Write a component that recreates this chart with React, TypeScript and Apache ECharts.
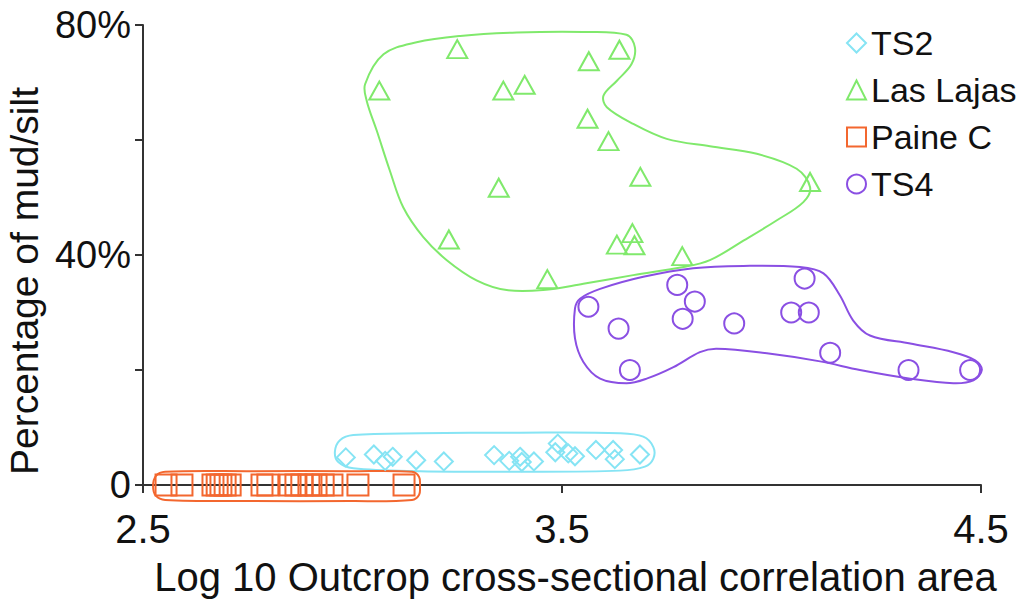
import React, { useEffect, useRef } from "react";
import * as echarts from "echarts";

// Series names, in legend order
const seriesNames = ["TS2", "Las Lajas", "Paine C", "TS4"];

// [log10 area, % mud/silt]
const ts2Points: number[][] = [
  [2.984, 4.8], [3.051, 5.3], [3.078, 4.2], [3.096, 4.9], [3.152, 4.3],
  [3.218, 4.1], [3.338, 5.2], [3.374, 4.2], [3.4, 4.9], [3.404, 4.0],
  [3.433, 4.1], [3.484, 5.7], [3.49, 7.2], [3.515, 5.5], [3.531, 5.0],
  [3.581, 6.1], [3.622, 6.1], [3.626, 4.5], [3.686, 5.3],
];

const lasLajasPoints: number[][] = [
  [3.25, 75.8], [3.064, 68.6], [3.36, 68.6], [3.411, 69.6], [3.564, 73.7],
  [3.637, 75.7], [3.561, 63.7], [3.611, 59.8], [3.687, 53.6], [3.349, 51.7],
  [4.092, 52.7], [3.23, 42.7], [3.631, 41.8], [3.668, 43.8], [3.673, 41.7],
  [3.787, 39.8], [3.465, 35.8],
];

const paineCPoints: number[][] = [
  [2.555, 0], [2.593, 0], [2.667, 0], [2.677, 0], [2.686, 0], [2.696, 0],
  [2.708, 0], [2.784, 0], [2.798, 0], [2.851, 0], [2.865, 0], [2.879, 0],
  [2.896, 0], [2.913, 0], [2.93, 0], [2.951, 0], [3.013, 0], [3.123, 0],
];

const ts4Points: number[][] = [
  [3.563, 31.0], [3.635, 27.2], [3.662, 20.0], [3.775, 34.8], [3.817, 31.9],
  [3.788, 28.9], [3.911, 28.1], [4.047, 30.0], [4.089, 30.0], [4.079, 35.9],
  [4.14, 23.0], [4.327, 20.0], [4.474, 20.0],
];

// Hand-drawn envelopes around each group, in data units
const ts2Envelope: number[][] = [
  [2.958, 5.8], [2.97, 7.8], [3.002, 8.7], [3.161, 9.0], [3.4, 9.1],
  [3.638, 9.0], [3.694, 8.4], [3.718, 6.6], [3.718, 4.6], [3.698, 3.2],
  [3.638, 2.5], [3.4, 2.3], [3.161, 2.4], [3.002, 2.9], [2.966, 4.0],
];

const lasLajasEnvelope: number[][] = [
  [3.03, 69.7], [3.074, 74.9], [3.153, 77.0], [3.257, 78.1], [3.392, 78.7],
  [3.551, 78.8], [3.654, 78.3], [3.674, 76.1], [3.666, 73.2], [3.631, 70.3],
  [3.599, 67.7], [3.607, 65.7], [3.67, 62.8], [3.75, 60.2], [3.853, 58.9],
  [3.965, 57.6], [4.06, 55.0], [4.092, 51.8], [4.076, 49.2], [4.012, 46.0],
  [3.933, 42.5], [3.853, 39.1], [3.79, 37.9], [3.67, 36.5], [3.551, 35.0],
  [3.455, 33.9], [3.368, 33.9], [3.296, 35.6], [3.225, 39.1], [3.169, 43.1],
  [3.121, 48.3], [3.089, 54.7], [3.058, 61.6], [3.034, 66.8],
];

const paineCEnvelope: number[][] = [
  [2.524, -0.2], [2.531, 1.6], [2.553, 2.3], [2.755, 2.4], [2.994, 2.4],
  [3.142, 2.3], [3.159, 1.4], [3.161, -0.2], [3.159, -1.7], [3.142, -2.6],
  [2.994, -2.8], [2.755, -2.8], [2.553, -2.6], [2.531, -1.9],
];

const ts4Envelope: number[][] = [
  [3.531, 30.7], [3.543, 32.4], [3.591, 34.1], [3.694, 36.2], [3.813, 37.7],
  [3.933, 38.1], [4.068, 37.9], [4.124, 36.8], [4.163, 33.0], [4.195, 28.6],
  [4.235, 26.0], [4.331, 24.6], [4.434, 23.1], [4.486, 21.7], [4.502, 20.0],
  [4.482, 18.2], [4.434, 17.7], [4.331, 18.5], [4.211, 20.0], [4.116, 21.5],
  [3.989, 22.9], [3.869, 23.7], [3.829, 23.1], [3.766, 20.5], [3.702, 18.5],
  [3.654, 17.7], [3.591, 18.5], [3.551, 21.4], [3.531, 25.5],
];

// Axis ticks and labels
const xTickValues = [2.5, 3.5, 4.5];
const yTickValues = [0, 20, 40, 60, 80];
const yLabelValues = [0, 40, 80];

const COLORS = {
  ts2: "#86e4f4",
  lasLajas: "#80e96c",
  paineC: "#f3672f",
  ts4: "#8a4fe3",
};

const FONT = "'Liberation Sans', Arial, Helvetica, sans-serif";
const AXIS_COLOR = "#333";
const TEXT_COLOR = "#111";

function envelopeSeries(name: string, points: number[][], color: string) {
  return {
    type: "custom",
    name,
    silent: true,
    z: 1,
    data: [points[0]],
    renderItem: (_params: any, api: any) => ({
      type: "polygon",
      shape: {
        points: points.map((p) => api.coord(p)),
        smooth: 0.35,
      },
      style: { fill: "none", stroke: color, lineWidth: 2 },
    }),
  };
}

function scatterSeries(
  name: string,
  points: number[][],
  symbol: string,
  size: number | number[],
  color: string
) {
  return {
    type: "scatter",
    name,
    symbol,
    symbolSize: size,
    z: 3,
    data: points,
    itemStyle: {
      color: "rgba(255,255,255,0)",
      borderColor: color,
      borderWidth: 2,
      opacity: 1,
    },
    emphasis: { disabled: true },
  };
}

export default function App() {
  const ref = useRef<HTMLDivElement>(null);

  useEffect(() => {
    if (!ref.current) return;
    const chart = echarts.init(ref.current, null, { renderer: "svg" });

    chart.setOption({
      animation: false,
      backgroundColor: "#fff",
      textStyle: { fontFamily: FONT },
      grid: {
        left: 143,
        right: 48,
        top: 25,
        bottom: 129,
        containLabel: false,
        outerBoundsMode: "none",
      },
      legend: {
        orient: "vertical",
        left: 846,
        top: 26,
        padding: 0,
        itemWidth: 19,
        itemHeight: 19,
        itemGap: 13,
        textStyle: {
          fontFamily: FONT,
          fontSize: 34,
          color: TEXT_COLOR,
          lineHeight: 34,
        },
        data: [
          { name: seriesNames[0], icon: "diamond" },
          { name: seriesNames[1], icon: "triangle" },
          { name: seriesNames[2], icon: "rect" },
          { name: seriesNames[3], icon: "circle" },
        ],
      },
      xAxis: {
        type: "value",
        min: 2.5,
        max: 4.5,
        name: "Log 10 Outcrop cross-sectional correlation area",
        nameLocation: "middle",
        nameGap: 72,
        nameTextStyle: {
          fontFamily: FONT,
          fontSize: 40,
          color: TEXT_COLOR,
          padding: [0, 0, 0, 27],
        },
        axisLine: { show: true, onZero: false, lineStyle: { color: AXIS_COLOR, width: 2 } },
        axisTick: {
          show: true,
          length: 8,
          customValues: xTickValues,
          lineStyle: { color: AXIS_COLOR, width: 2 },
        },
        axisLabel: {
          customValues: xTickValues,
          fontFamily: FONT,
          fontSize: 40,
          color: TEXT_COLOR,
          margin: 24,
          formatter: (v: number) => v.toFixed(1),
        },
        splitLine: { show: false },
      },
      yAxis: {
        type: "value",
        min: 0,
        max: 80,
        interval: 20,
        name: "Percentage of mud/silt",
        nameLocation: "middle",
        nameRotate: 90,
        nameGap: 98,
        nameTextStyle: {
          fontFamily: FONT,
          fontSize: 39,
          color: TEXT_COLOR,
          padding: [0, 52, 0, 0],
        },
        axisLine: { show: true, lineStyle: { color: AXIS_COLOR, width: 2 } },
        axisTick: {
          show: true,
          length: 8,
          customValues: yTickValues,
          lineStyle: { color: AXIS_COLOR, width: 2 },
        },
        axisLabel: {
          customValues: yLabelValues,
          fontFamily: FONT,
          fontSize: 38,
          color: TEXT_COLOR,
          margin: 12,
          formatter: (v: number) => (v === 0 ? "0" : `${v}%`),
        },
        splitLine: { show: false },
      },
      series: [
        envelopeSeries("TS2 envelope", ts2Envelope, COLORS.ts2),
        envelopeSeries("Las Lajas envelope", lasLajasEnvelope, COLORS.lasLajas),
        envelopeSeries("Paine C envelope", paineCEnvelope, COLORS.paineC),
        envelopeSeries("TS4 envelope", ts4Envelope, COLORS.ts4),
        scatterSeries(seriesNames[0], ts2Points, "diamond", 18, COLORS.ts2),
        scatterSeries(seriesNames[1], lasLajasPoints, "triangle", [20, 18], COLORS.lasLajas),
        scatterSeries(seriesNames[2], paineCPoints, "rect", 21, COLORS.paineC),
        scatterSeries(seriesNames[3], ts4Points, "circle", 20, COLORS.ts4),
      ],
    });

    return () => chart.dispose();
  }, []);

  return (
    <div
      ref={ref}
      style={{
        position: "fixed",
        left: 0,
        top: 0,
        width: 1029,
        height: 614,
        background: "#fff",
      }}
    />
  );
}
